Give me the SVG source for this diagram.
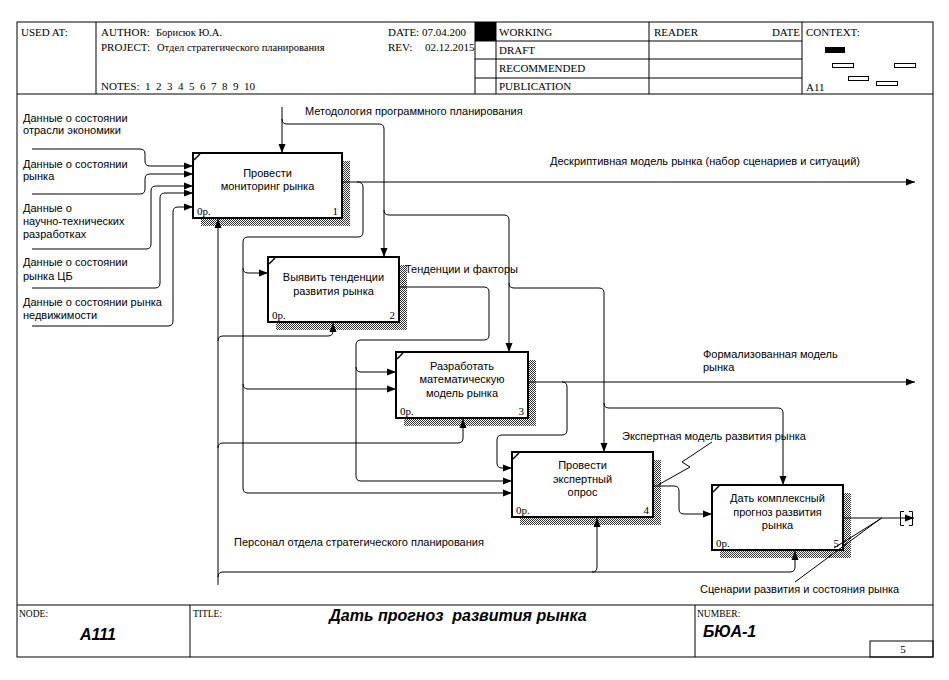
<svg xmlns="http://www.w3.org/2000/svg" width="949" height="680" viewBox="0 0 949 680">
<defs>
<pattern id="hatch" width="2" height="2" patternUnits="userSpaceOnUse">
<rect width="2" height="2" fill="#fff"/>
<rect width="1" height="1" fill="#333"/>
<rect x="1" y="1" width="1" height="1" fill="#333"/>
</pattern>
<marker id="ah" markerUnits="userSpaceOnUse" markerWidth="10" markerHeight="8" viewBox="0 0 10 8" refX="9" refY="4" orient="auto">
<path d="M0,0.5 L9,4 L0,7.5 z" fill="#000"/>
</marker>
<style>
.box{fill:#fff;stroke:#000;stroke-width:2}
.sh{fill:url(#hatch)}
.tick{stroke:#000;stroke-width:1.5}
.c{fill:none;stroke:#000;stroke-width:1}
.a{marker-end:url(#ah)}
.t{font-family:"Liberation Sans",Arial,sans-serif;font-size:11px;fill:#000}
.m{text-anchor:middle}
.s{font-family:"Liberation Serif","Times New Roman",serif;font-size:11px;fill:#000}
.sm{font-family:"Liberation Serif","Times New Roman",serif;font-size:10.5px;fill:#000}
.ft{font-family:"Liberation Serif","Times New Roman",serif;font-size:9.5px;fill:#000}
.bi{font-family:"Liberation Sans",Arial,sans-serif;font-size:16px;font-weight:bold;font-style:italic;fill:#000}
.ln{stroke:#000;stroke-width:1;fill:none}
.end{text-anchor:end}
</style>
</defs>
<rect width="949" height="680" fill="#fff"/>

<g id="frame">
<rect x="17" y="22" width="916" height="635" class="ln"/>
<line x1="17" y1="94" x2="933" y2="94" class="ln"/>
<line x1="96" y1="22" x2="96" y2="94" class="ln"/>
<line x1="475" y1="22" x2="475" y2="94" class="ln"/>
<line x1="496" y1="22" x2="496" y2="94" class="ln"/>
<line x1="649" y1="22" x2="649" y2="94" class="ln"/>
<line x1="802" y1="22" x2="802" y2="94" class="ln"/>
<line x1="475" y1="41" x2="802" y2="41" class="ln"/>
<line x1="475" y1="59" x2="802" y2="59" class="ln"/>
<line x1="475" y1="78" x2="802" y2="78" class="ln"/>
<text x="21" y="36" class="s">USED AT:</text>
<text x="101" y="36" class="s">AUTHOR:</text>
<text x="156" y="36" class="sm">Борисюк Ю.А.</text>
<text x="101" y="51" class="s">PROJECT:</text>
<text x="157" y="51" class="sm">Отдел стратегического планирования</text>
<text x="101" y="90" class="s" xml:space="preserve">NOTES:  1  2  3  4  5  6  7  8  9  10</text>
<text x="388" y="36" class="s">DATE: 07.04.200</text>
<text x="388" y="51" class="s">REV:</text>
<text x="425" y="51" class="s">02.12.2015</text>
<rect x="475" y="22" width="21" height="19" fill="#000"/>
<text x="499" y="36" class="s">WORKING</text>
<text x="499" y="54" class="s">DRAFT</text>
<text x="499" y="72" class="s">RECOMMENDED</text>
<text x="499" y="90" class="s">PUBLICATION</text>
<text x="654" y="36" class="s">READER</text>
<text x="800" y="36" class="s end">DATE</text>
<text x="806" y="36" class="s">CONTEXT:</text>
<text x="806" y="91" class="s">A11</text>
<rect x="825" y="47" width="20" height="6" fill="#000"/>
<rect x="832.5" y="63.5" width="21" height="4" class="ln"/>
<rect x="894.5" y="63.5" width="21" height="4" class="ln"/>
<rect x="848.5" y="76.5" width="20" height="4" class="ln"/>
<rect x="876.5" y="81.5" width="21" height="4" class="ln"/>

<line x1="17" y1="605" x2="933" y2="605" class="ln"/>
<line x1="190" y1="605" x2="190" y2="657" class="ln"/>
<line x1="695" y1="605" x2="695" y2="657" class="ln"/>
<rect x="870" y="641" width="63" height="16" class="ln"/>
<text x="19" y="617" class="ft">NODE:</text>
<text x="193" y="617" class="ft">TITLE:</text>
<text x="697" y="617" class="ft">NUMBER:</text>
<text x="80" y="640" class="bi">A111</text>
<text x="458" y="621" class="bi m" xml:space="preserve">Дать прогноз  развития рынка</text>
<text x="703" y="637" class="bi">БЮА-1</text>
<text x="903" y="653" class="s m">5</text>
</g>

<g id="box1">
<rect x="201" y="161" width="149" height="65" class="sh"/>
<rect x="193" y="153" width="149" height="65" class="box"/>
<line x1="194" y1="160" x2="200" y2="154" class="tick"/>
<text x="267.5" y="177" class="t m">Провести</text>
<text x="267.5" y="190" class="t m">мониторинг рынка</text>
<text x="197" y="215" class="s">0р.</text>
<text x="338" y="215" class="s end">1</text>
</g>

<g id="box2">
<rect x="276" y="265" width="131" height="65" class="sh"/>
<rect x="268" y="257" width="131" height="65" class="box"/>
<line x1="269" y1="264" x2="275" y2="258" class="tick"/>
<text x="333.5" y="281" class="t m">Выявить тенденции</text>
<text x="333.5" y="295" class="t m">развития рынка</text>
<text x="272" y="319" class="s">0р.</text>
<text x="395" y="319" class="s end">2</text>
</g>

<g id="box3">
<rect x="404" y="360" width="132" height="66" class="sh"/>
<rect x="396" y="352" width="132" height="66" class="box"/>
<line x1="397" y1="359" x2="403" y2="353" class="tick"/>
<text x="462" y="370" class="t m">Разработать</text>
<text x="462" y="383" class="t m">математическую</text>
<text x="462" y="397" class="t m">модель рынка</text>
<text x="400" y="415" class="s">0р.</text>
<text x="524" y="415" class="s end">3</text>
</g>

<g id="box4">
<rect x="520" y="460" width="141" height="65" class="sh"/>
<rect x="512" y="452" width="141" height="65" class="box"/>
<line x1="513" y1="459" x2="519" y2="453" class="tick"/>
<text x="582.5" y="469" class="t m">Провести</text>
<text x="582.5" y="483" class="t m">экспертный</text>
<text x="582.5" y="496" class="t m">опрос</text>
<text x="516" y="514" class="s">0р.</text>
<text x="649" y="514" class="s end">4</text>
</g>

<g id="box5">
<rect x="720" y="493" width="131" height="65" class="sh"/>
<rect x="712" y="485" width="131" height="65" class="box"/>
<line x1="713" y1="492" x2="719" y2="486" class="tick"/>
<text x="777.5" y="502" class="t m">Дать комплексный</text>
<text x="777.5" y="516" class="t m">прогноз развития</text>
<text x="777.5" y="529" class="t m">рынка</text>
<text x="716" y="547" class="s">0р.</text>
<text x="839" y="547" class="s end">5</text>
</g>

<g id="connectors">
<path class="c a" d="M32 149 H140 Q145 149 145 154 V161 Q145 166 150 166 H193"/>
<path class="c a" d="M32 194 H140 Q145 194 145 189 V179 Q145 174 150 174 H193"/>
<path class="c a" d="M32 249 H146 Q151 249 151 244 V191 Q151 186 156 186 H193"/>
<path class="c a" d="M32 288 H155 Q160 288 160 283 V198 Q160 193 165 193 H193"/>
<path class="c a" d="M32 326 H168 Q173 326 173 321 V212 Q173 207 178 207 H193"/>

<path class="c a" d="M282 107 V153"/>
<path class="c a" d="M282 119 Q282 124 287 124 H379 Q384 124 384 129 V257"/>
<path class="c a" d="M384 210 Q384 215 389 215 H504 Q509 215 509 220 V352"/>
<path class="c a" d="M509 283 Q509 288 514 288 H599 Q604 288 604 293 V452"/>
<path class="c a" d="M604 403 Q604 408 609 408 H778 Q783 408 783 413 V485"/>

<path class="c a" d="M343 182 H915"/>
<path class="c a" d="M357 182 Q363 182 363 187 V232 Q363 237 358 237 H248 Q243 237 243 242 V488 Q243 493 248 493 H512"/>
<path class="c a" d="M243 268 Q243 273 248 273 H268"/>
<path class="c a" d="M243 384 Q243 389 248 389 H396"/>

<path class="c a" d="M218 585 V219"/>
<path class="c a" d="M218 341 Q218 336 223 336 H328 Q333 336 333 331 V323"/>
<path class="c a" d="M218 448 Q218 443 223 443 H458 Q463 443 463 438 V419"/>
<path class="c a" d="M218 577 Q218 572 223 572 H790 Q795 572 795 567 V551"/>
<path class="c a" d="M592 572 Q597 572 597 567 V518"/>

<path class="c a" d="M400 287 H484 Q489 287 489 292 V335 Q489 340 484 340 H361 Q356 340 356 345 V476 Q356 481 361 481 H512"/>
<path class="c a" d="M356 367 Q356 372 361 372 H396"/>

<path class="c a" d="M529 382 H915"/>
<path class="c a" d="M562 382 Q567 382 567 387 V430 Q567 435 562 435 H502 Q497 435 497 440 V463 Q497 468 502 468 H512"/>

<path class="c a" d="M654 486 H674 Q679 486 679 491 V509 Q679 514 684 514 H712"/>
<path class="c" d="M658 485 L690 467 L682 462 L712 442"/>

<path class="c a" d="M844 518 H914"/>
<path class="c" d="M904 511.5 H900.5 V525.5 H904"/>
<path class="c" d="M909 511.5 H912.5 V525.5 H909"/>
<path class="c" d="M882 518 L834 548"/>
<path class="c" d="M880 519 L795 582"/>

<text x="305" y="115" class="t">Методология программного планирования</text>
<text x="550" y="165" class="t">Дескриптивная модель рынка (набор сценариев и ситуаций)</text>
<text x="405" y="273" class="t">Тенденции и факторы</text>
<text x="703" y="358" class="t">Формализованная модель</text>
<text x="703" y="371" class="t">рынка</text>
<text x="622" y="440" class="t">Экспертная модель развития рынка</text>
<text x="234" y="546" class="t">Персонал отдела стратегического планирования</text>
<text x="700" y="593" class="t">Сценарии развития и состояния рынка</text>
<text x="23" y="122" class="t">Данные о состоянии</text>
<text x="23" y="134" class="t">отрасли экономики</text>
<text x="23" y="168" class="t">Данные о состоянии</text>
<text x="23" y="180" class="t">рынка</text>
<text x="23" y="212" class="t">Данные о</text>
<text x="23" y="225" class="t">научно-технических</text>
<text x="23" y="238" class="t">разработках</text>
<text x="23" y="266" class="t">Данные о состоянии</text>
<text x="23" y="280" class="t">рынка ЦБ</text>
<text x="23" y="306" class="t">Данные о состоянии рынка</text>
<text x="23" y="319" class="t">недвижимости</text>
</g>
</svg>
